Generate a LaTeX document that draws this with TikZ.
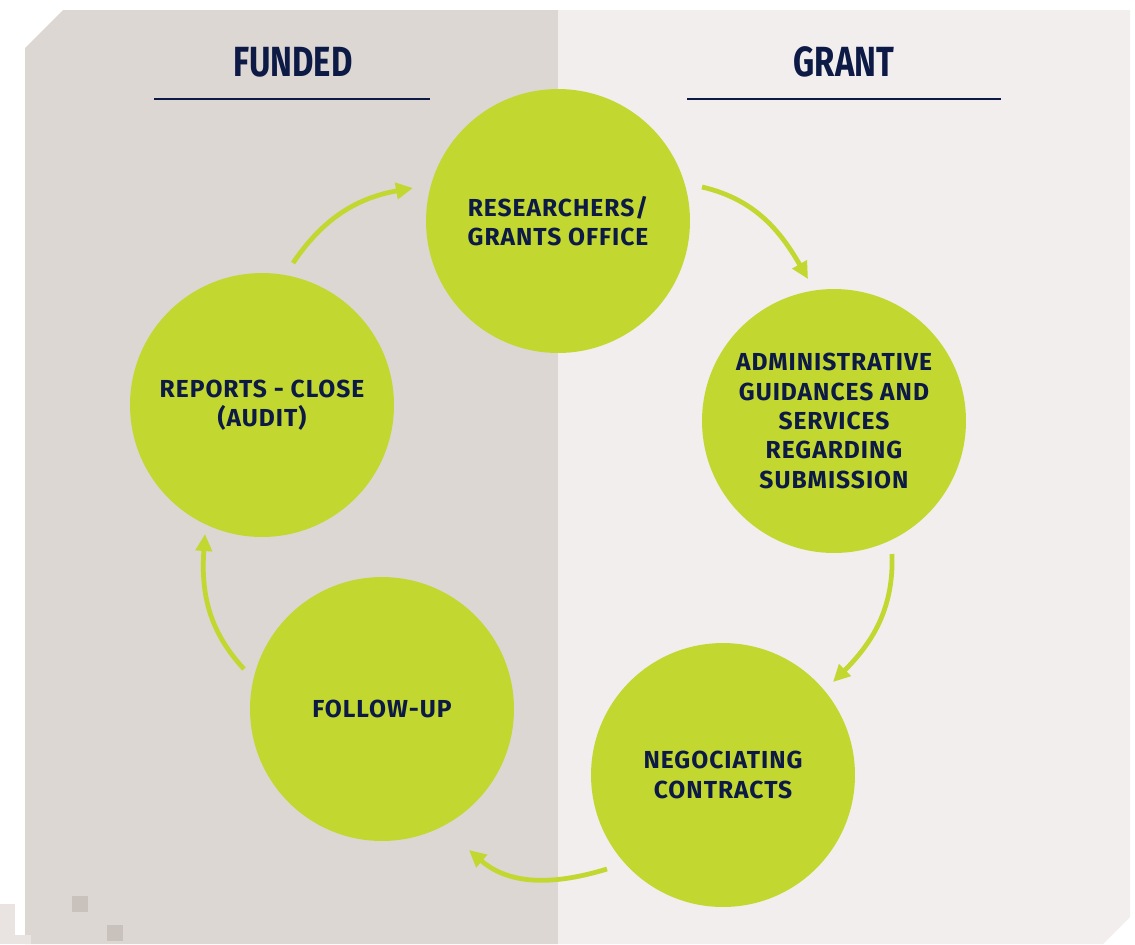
\documentclass[tikz,border=0pt]{standalone}
\usepackage{fontspec}
\setmainfont{Fira Sans}
\newfontfamily\titlefont{Fira Sans}[FakeStretch=0.78]
\newfontfamily\stagefont{Fira Sans}[LetterSpace=4]
\usetikzlibrary{arrows.meta}
\definecolor{navy}{HTML}{0D1A45}
\definecolor{lime}{HTML}{C2D730}
\definecolor{leftbg}{HTML}{DCD7D3}
\definecolor{rightbg}{HTML}{F1EEED}
\definecolor{sqdark}{HTML}{C9C1BC}
\definecolor{sqlight}{HTML}{E9E4E2}
\begin{document}
\begin{tikzpicture}[x=0.02cm,y=-0.02cm,
  stage/.style={circle,fill=lime,minimum size=5.28cm,inner sep=0pt,
    font=\stagefont\bfseries\fontsize{14}{16.7}\selectfont,text=navy,align=center},
  flow/.style={draw=lime,line width=2.7pt,-{Triangle[length=0.34cm,width=0.32cm]}},
  title/.style={font=\titlefont\bfseries\fontsize{24}{28}\selectfont,text=navy},
  rulestyle/.style={draw=navy,line width=1.5pt},
  sqd/.style={fill=sqdark},
  sql/.style={fill=sqlight}]
\useasboundingbox (0,0) rectangle (1135,944);
% panels
\fill[leftbg] (25,944) -- (25,48) -- (63,10) -- (558,10) -- (558,944) -- cycle;
\fill[rightbg] (558,10) -- (1130,10) -- (1130,917) -- (1103,944) -- (558,944) -- cycle;
% decorative squares
\fill[sql] (0,904) rectangle (15,944);
\fill[sql] (15,935) rectangle (31,944);
\fill[sqd] (72,896) rectangle (88,912);
\fill[sqd] (107,925) rectangle (123,941);
% titles
\node[title] (funded) at (293,62) {FUNDED};
\node[title] (grant) at (844,62) {GRANT};
\coordinate (fl) at (154,99); \coordinate (fr) at (430,99);
\coordinate (gl) at (687,99); \coordinate (gr) at (1001,99);
\draw[rulestyle] (fl) -- (fr);
\draw[rulestyle] (gl) -- (gr);
% stages
\node[stage] (research) at (558,221) {RESEARCHERS/\\GRANTS OFFICE};
\node[stage] (admin) at (834,421) {ADMINISTRATIVE\\GUIDANCES AND\\SERVICES\\REGARDING\\SUBMISSION};
\node[stage] (nego) at (723,775) {NEGOCIATING\\CONTRACTS};
\node[stage] (follow) at (382,709) {FOLLOW-UP};
\node[stage] (reports) at (262,405) {REPORTS - CLOSE\\(AUDIT)};
% arrow end points
\coordinate (a1s) at (293,263); \coordinate (a1e) at (413,188);
\coordinate (a2s) at (702,187); \coordinate (a2e) at (808,279);
\coordinate (a3s) at (892,554); \coordinate (a3e) at (833,682);
\coordinate (a4s) at (607,869); \coordinate (a4e) at (469,850);
\coordinate (a5s) at (244,669); \coordinate (a5e) at (205,534);
\draw[flow] (a1s) to[out=56,in=190] (a1e);
\draw[flow] (a2s) to[out=-13,in=120] (a2e);
\draw[flow] (a3s) to[out=-88,in=45] (a3e);
\draw[flow] (a4s) to[out=197,in=-41] (a4e);
\draw[flow] (a5s) to[out=133,in=266] (a5e);
\end{tikzpicture}
\end{document}
